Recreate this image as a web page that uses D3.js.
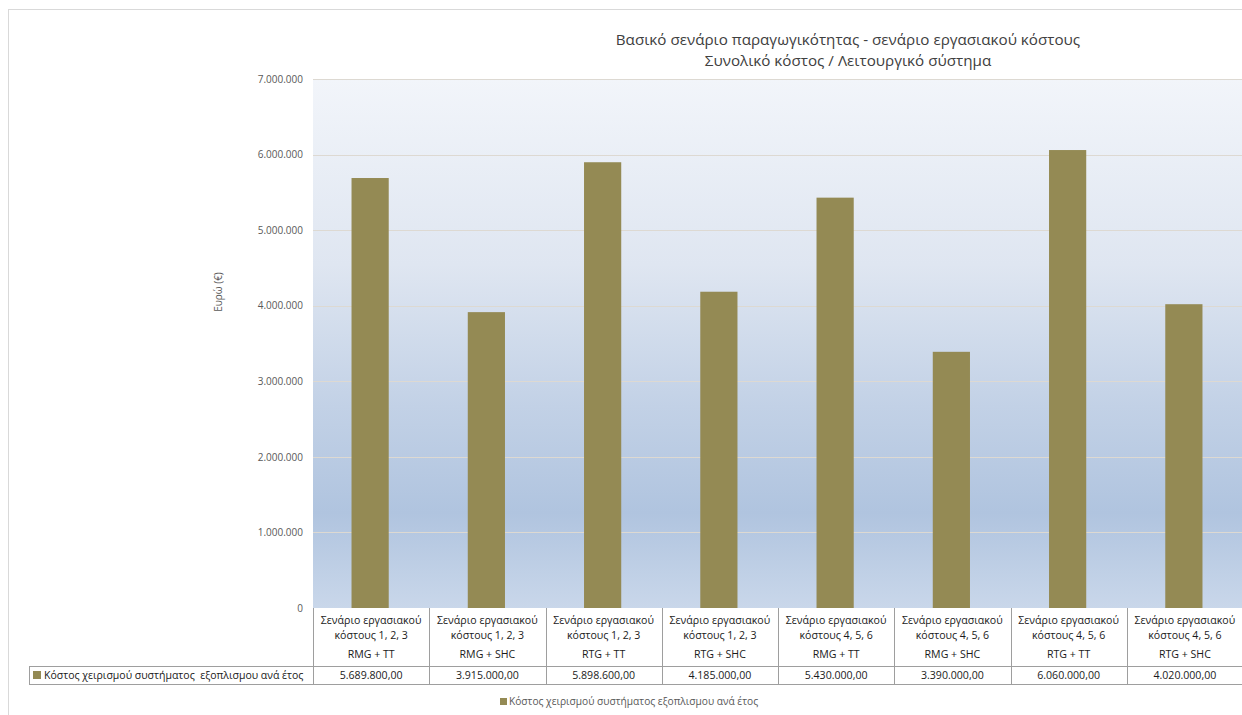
<!DOCTYPE html>
<html>
<head>
<meta charset="utf-8">
<script src="https://cdn.jsdelivr.net/npm/d3@7"></script>
<style>
  html, body { margin: 0; padding: 0; background: #fff; }
  svg { display: block; font-family: "Open Sans", "Noto Sans", sans-serif; }
</style>
</head>
<body>
<svg id="chart" width="1242" height="715"></svg>
<script>
// Operating scenarios (two header lines) and equipment combination per column
const scenarioLine1 = ["Σενάριο εργασιακού", "Σενάριο εργασιακού", "Σενάριο εργασιακού", "Σενάριο εργασιακού",
                       "Σενάριο εργασιακού", "Σενάριο εργασιακού", "Σενάριο εργασιακού", "Σενάριο εργασιακού"];
const scenarioLine2 = ["κόστους 1, 2, 3", "κόστους 1, 2, 3", "κόστους 1, 2, 3", "κόστους 1, 2, 3",
                       "κόστους 4, 5, 6", "κόστους 4, 5, 6", "κόστους 4, 5, 6", "κόστους 4, 5, 6"];
const equipment = ["RMG + TT", "RMG + SHC", "RTG + TT", "RTG + SHC", "RMG + TT", "RMG + SHC", "RTG + TT", "RTG + SHC"];

// Annual operating cost of the equipment system (€)
const seriesName = "Κόστος χειρισμού συστήματος εξοπλισμου ανά έτος";
const tableSeriesName = "Κόστος χειρισμού συστήματος  εξοπλισμου ανά έτος";
const costs = [5689800, 3915000, 5898600, 4185000, 5430000, 3390000, 6060000, 4020000];

const yTicks = [0, 1000000, 2000000, 3000000, 4000000, 5000000, 6000000, 7000000];
const titleLines = ["Βασικό σενάριο παραγωγικότητας - σενάριο εργασιακού κόστους", "Συνολικό κόστος / Λειτουργικό σύστημα"];
const yAxisTitle = "Ευρώ (€)";

const locale = d3.formatLocale({ decimal: ",", thousands: ".", grouping: [3], currency: ["", "€"] });
const fmtTick = locale.format(",.0f");
const fmtValue = locale.format(",.2f");

const svg = d3.select("#chart");
const plot = { left: 313, right: 1243, top: 79, bottom: 608 };
const barColor = "#948a54";
const ids = costs.map((d, i) => i);

const x = d3.scaleBand().domain(ids).range([plot.left, plot.right]).padding(0);
const y = d3.scaleLinear().domain([0, 7000000]).range([plot.bottom, plot.top]);

// Outer chart frame
svg.append("rect").attr("x", 8.5).attr("y", 9.5).attr("width", 1250).attr("height", 720)
  .attr("fill", "#fff").attr("stroke", "#d9d9d9");

// Plot area gradient background
const defs = svg.append("defs");
const grad = defs.append("linearGradient").attr("id", "bg").attr("x1", 0).attr("y1", 0).attr("x2", 0).attr("y2", 1);
[[0, "#f2f5fa"], [0.35, "#dfe6f1"], [0.62, "#c2d1e6"], [0.82, "#b0c4df"], [1, "#c9d7ea"]]
  .forEach(([o, c]) => grad.append("stop").attr("offset", o).attr("stop-color", c));
svg.append("rect").attr("x", plot.left).attr("y", plot.top)
  .attr("width", plot.right - plot.left).attr("height", plot.bottom - plot.top)
  .attr("fill", "url(#bg)");

// Horizontal gridlines
svg.append("g").selectAll("line").data(yTicks.filter(t => t > 0)).join("line")
  .attr("x1", plot.left).attr("x2", plot.right)
  .attr("y1", d => Math.round(y(d)) + 0.5).attr("y2", d => Math.round(y(d)) + 0.5)
  .attr("stroke", "#ddd9d2").attr("stroke-width", 1);

// Y axis tick labels
const yAxis = d3.axisLeft(y).tickValues(yTicks).tickFormat(fmtTick).tickSize(0).tickPadding(10);
const gy = svg.append("g").attr("transform", `translate(${plot.left},0)`).call(yAxis);
gy.select(".domain").remove();
gy.selectAll("text").attr("fill", "#595959").style("font-size", "10px")
  .style("font-family", "'Open Sans', sans-serif");

// Y axis title
svg.append("text").attr("transform", "translate(222,292) rotate(-90)")
  .attr("text-anchor", "middle").attr("fill", "#595959").style("font-size", "10px")
  .text(yAxisTitle);

// Bars
const barW = x.bandwidth() * 0.32;
svg.append("g").selectAll("rect").data(ids).join("rect")
  .attr("x", i => x(i) + x.bandwidth() / 2 - barW / 2 - 1)
  .attr("y", i => y(costs[i]))
  .attr("width", barW)
  .attr("height", i => y(0) - y(costs[i]))
  .attr("fill", barColor);

// Title
const title = svg.append("text").attr("text-anchor", "middle").attr("fill", "#404040").style("font-size", "15.2px");
titleLines.forEach((t, i) => title.append("tspan").attr("x", 848).attr("y", 45 + i * 21).text(t));

// Data table under the plot
const rowTop = plot.bottom, rowMid = 666, rowBot = 684, keyLeft = 29;
const tableColor = "#9e9e9e";
const table = svg.append("g").attr("stroke", tableColor).attr("stroke-width", 1);
table.append("line").attr("x1", keyLeft).attr("x2", plot.right).attr("y1", rowMid + 0.5).attr("y2", rowMid + 0.5);
table.append("line").attr("x1", keyLeft).attr("x2", plot.right).attr("y1", rowBot + 0.5).attr("y2", rowBot + 0.5);
table.append("line").attr("x1", keyLeft + 0.5).attr("x2", keyLeft + 0.5).attr("y1", rowMid).attr("y2", rowBot);
table.selectAll("line.col").data(ids).join("line").attr("class", "col")
  .attr("x1", i => Math.round(x(i)) + 0.5).attr("x2", i => Math.round(x(i)) + 0.5)
  .attr("y1", rowTop).attr("y2", rowBot);

const cells = svg.append("g").attr("text-anchor", "middle").attr("fill", "#1a1a1a").style("font-size", "10.6px");
ids.forEach(i => {
  const cx = x(i) + x.bandwidth() / 2;
  cells.append("text").attr("x", cx).attr("y", rowTop + 16).text(scenarioLine1[i]);
  cells.append("text").attr("x", cx).attr("y", rowTop + 31).text(scenarioLine2[i]);
  cells.append("text").attr("x", cx).attr("y", rowTop + 50).text(equipment[i]);
  cells.append("text").attr("x", cx).attr("y", rowMid + 13).text(fmtValue(costs[i]));
});

// Series key in the table's first column
svg.append("rect").attr("x", 33).attr("y", rowMid + 5).attr("width", 8).attr("height", 8).attr("fill", barColor);
svg.append("text").attr("x", 44).attr("y", rowMid + 13).attr("fill", "#1a1a1a")
  .style("font-size", "10.5px").style("white-space", "pre").text(tableSeriesName);

// Legend below the chart
svg.append("rect").attr("x", 500).attr("y", 698).attr("width", 7).attr("height", 7).attr("fill", barColor);
svg.append("text").attr("x", 509).attr("y", 705).attr("fill", "#595959")
  .style("font-size", "10.2px").text(seriesName);
</script>
</body>
</html>
